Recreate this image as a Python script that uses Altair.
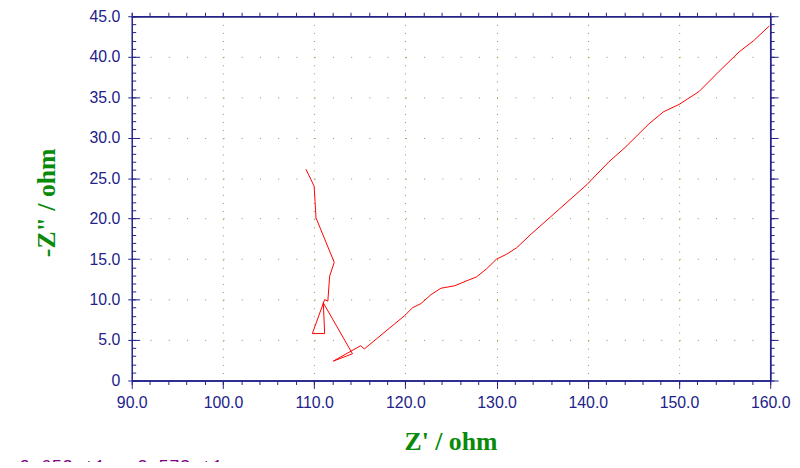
import altair as alt
import pandas as pd

# Nyquist data
zre = [109.1, 110.0, 110.1, 110.2, 112.2, 111.7, 111.5, 111.15, 109.8, 111.15,
       111.0, 114.2, 112.1, 115.1, 115.5, 119.9, 120.8, 121.7, 122.8, 123.9,
       125.4, 126.9, 127.8, 128.9, 130.0, 131.1, 132.2, 133.8, 136.8, 139.9,
       142.3, 144.1, 146.7, 148.3, 150.0, 152.2, 154.4, 156.6, 158.2, 159.9]
zim = [26.1, 24.0, 22.1, 20.1, 14.6, 12.9, 9.8, 10.0, 5.8, 5.8,
       9.6, 3.3, 2.4, 4.3, 3.9, 8.0, 9.0, 9.5, 10.6, 11.4,
       11.7, 12.4, 12.8, 13.8, 15.0, 15.6, 16.4, 18.1, 21.1, 24.2,
       27.0, 28.8, 31.7, 33.2, 34.1, 35.7, 38.2, 40.6, 42.0, 43.8]

x_major = [90, 100, 110, 120, 130, 140, 150, 160]
x_minor = list(range(90, 161, 2))
y_major = [0, 5, 10, 15, 20, 25, 30, 35, 40, 45]
y_minor = list(range(0, 46, 1))
cursor_text = ["x=9.653e+1  y=2.573e+1"]

df = pd.DataFrame({"zre": zre, "zim": zim, "i": list(range(len(zre)))})

W, H = 645, 368
NAVY = "#22228a"
GREEN = "#0a8a0a"
GRID = "#7f9f3a"

xs = alt.Scale(domain=[90, 160], nice=False, zero=False)
ys = alt.Scale(domain=[0, 45], nice=False, zero=False)


def ax(orient, values, tick, labels=False, grid=False, dash=None, title=None, **kw):
    d = dict(orient=orient, values=values, tickSize=tick, tickColor=NAVY, tickWidth=1,
             domainColor=NAVY, domainWidth=1.5, labels=labels, grid=grid)
    if labels:
        d.update(labelFont="Liberation Sans", labelFontSize=16, labelColor=NAVY,
                 labelFlush=False, labelOverlap=False,
                 labelExpr="datum.value == 0 ? '0' : format(datum.value, '.1f')")
    if grid:
        d.update(gridColor=GRID, gridDash=dash, gridWidth=1)
    if title:
        d.update(title=title, titleFont="Liberation Serif", titleFontWeight="bold",
                 titleFontSize=26, titleColor=GREEN)
    else:
        d.update(title=None)
    d.update(kw)
    return alt.Axis(**d)


def layer(xaxis, yaxis, visible=False):
    m = alt.Chart(df).mark_line(color="#ff0000", strokeWidth=1,
                                opacity=1 if visible else 0)
    return m.encode(
        x=alt.X("zre:Q", scale=xs, axis=xaxis),
        y=alt.Y("zim:Q", scale=ys, axis=yaxis),
        order="i:Q",
    )


# vertical grid lines: a dot at every y unit; horizontal grid lines: a dot every 2 x units
A = layer(
    ax("bottom", x_major, 8, labels=True, grid=True, dash=[1, 7.18],
       title="Z' / ohm", labelPadding=6, titleX=322, titleY=62,
       titleAlign="center", titleBaseline="middle"),
    ax("left", y_major, 4, labels=True, grid=True, dash=[1, 17.43],
       title='-Z" / ohm', labelPadding=8, titleX=-86, titleY=188,
       titleAlign="center", titleBaseline="middle", titleAngle=270),
    visible=True,
)
# minor ticks: bottom outward, left inward (drawn by a right-oriented axis moved onto the left edge)
B = layer(ax("bottom", x_minor, 4), ax("right", y_minor, 4, offset=-W, domain=False))
C = layer(ax("top", x_major, 4), ax("right", y_major, 8))
D = layer(ax("top", x_minor, 4), ax("right", y_minor, 4))
E = layer(None, ax("right", y_major, 8, offset=-W, domain=False))

T = alt.Chart(pd.DataFrame({"t": cursor_text})).mark_text(
    font="Liberation Mono", fontSize=18, color="#800080", align="left",
    baseline="alphabetic"
).encode(x=alt.value(-135), y=alt.value(H + 92), text="t:N")

chart = (
    alt.layer(A, B, C, D, E, T)
    .resolve_axis(x="independent", y="independent")
    .properties(
        width=W, height=H,
        autosize=alt.AutoSizeParams(type="none"),
        padding={"left": 125, "top": 6, "right": 22, "bottom": 80},
        background="white",
    )
    .configure_view(stroke=None)
)

chart.save("out.html", embed_options={"renderer": "svg", "actions": False})
